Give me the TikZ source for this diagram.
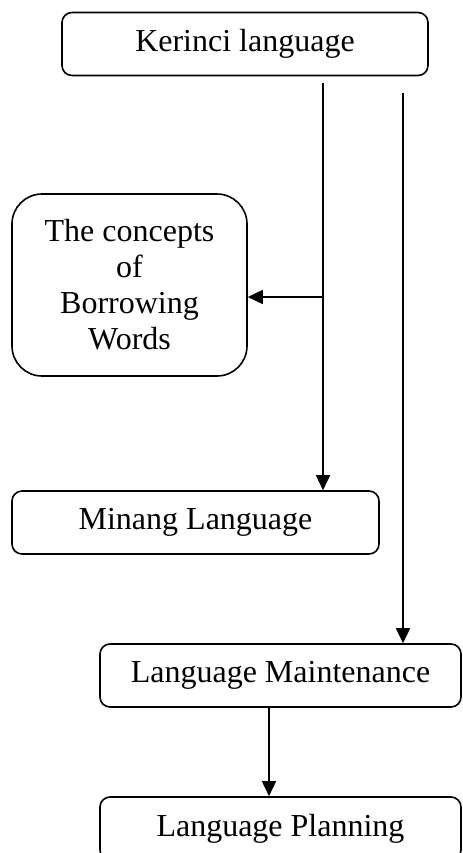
\documentclass[tikz,border=0pt]{standalone}
\usepackage{fontspec}
\setmainfont{Liberation Serif}
\usetikzlibrary{arrows.meta}
\begin{document}
\begin{tikzpicture}[x=0.5pt,y=-0.5pt,
  box/.style={draw,line width=0.8pt,rounded corners=5pt,minimum height=31.5pt,inner sep=0pt,font=\fontsize{16}{18}\selectfont},
  bigbox/.style={box,rounded corners=15pt,align=center},
  arr/.style={line width=0.8pt,-{Triangle[length=7.5pt,width=7pt]}}]
\useasboundingbox (0,0) rectangle (462,853);

% Boxes
\node[box,minimum width=183pt] (kerinci) at (245,44) {Kerinci language};
\node[bigbox,minimum width=117.5pt,minimum height=91pt] (concepts) at (129.5,285) {The concepts\\of\\Borrowing\\Words};
\node[box,minimum width=183.5pt] (minang) at (195.5,522.5) {Minang Language};
\node[box,minimum width=180.5pt] (maint) at (280.5,675.5) {Language Maintenance};
\node[box,minimum width=180.5pt] (plan) at (280.5,828.5) {Language Planning};

% Free ends under the top box
\coordinate (k1) at (323,83);
\coordinate (k2) at (403,93);
\coordinate (split) at (323,297);

% Arrows
\draw[arr] (k1) -- (k1 |- minang.north);
\draw[arr] (split) -- (split -| concepts.east);
\draw[arr] (k2) -- (k2 |- maint.north);
\draw[arr] ([xshift=-5.75pt]maint.south) -- ([xshift=-5.75pt]plan.north);

\end{tikzpicture}
\end{document}
